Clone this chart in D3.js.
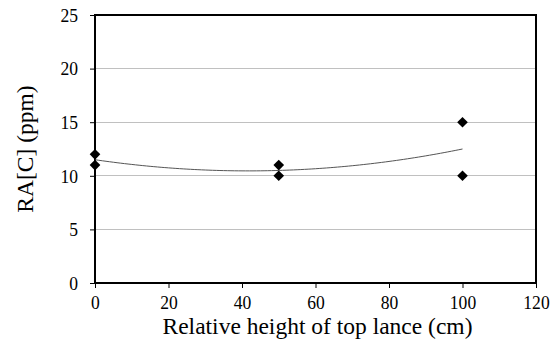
<!DOCTYPE html>
<html><head><meta charset="utf-8">
<script src="https://cdn.jsdelivr.net/npm/d3@7"></script>
<style>body{margin:0;background:#fff}svg{display:block}svg text{font-family:"Liberation Serif","Times New Roman",serif;fill:#000}</style>
</head><body>
<script>
const xValues = [0, 0, 50, 50, 100, 100];
const yValues = [12, 11, 11, 10, 15, 10];
const xTicks = [0, 20, 40, 60, 80, 100, 120];
const yTicks = [0, 5, 10, 15, 20, 25];
const xTitle = "Relative height of top lance (cm)";
const yTitle = "RA[C] (ppm)";

const W = 559, H = 347;
const m = {l: 95, r: 23, t: 15, b: 64};
const svg = d3.select("body").append("svg").attr("width", W).attr("height", H);
const x = d3.scaleLinear().domain([0, 120]).range([m.l, W - m.r]);
const y = d3.scaleLinear().domain([0, 25]).range([H - m.b, m.t]);

// gridlines
svg.append("g").selectAll("line").data(yTicks.filter(d => d > 0 && d < 25)).join("line")
  .attr("x1", x(0)).attr("x2", x(120)).attr("y1", d => y(d)).attr("y2", d => y(d))
  .attr("stroke", "#c0c0c0").attr("stroke-width", 1).attr("shape-rendering", "crispEdges");

// axes
const xa = svg.append("g").attr("transform", `translate(0,${y(0)})`)
  .call(d3.axisBottom(x).tickValues(xTicks).tickSize(5).tickPadding(7).tickSizeOuter(0));
const ya = svg.append("g").attr("transform", `translate(${x(0)},0)`)
  .call(d3.axisLeft(y).tickValues(yTicks).tickSize(5).tickPadding(12).tickSizeOuter(0));
[xa, ya].forEach(g => {
  g.attr("font-family", null);
  g.select(".domain").remove();
  g.selectAll("line").attr("stroke", "#000");
  g.selectAll("text").attr("font-size", 19.5);
});
xa.selectAll("text").attr("transform", "scale(0.9,1)");
ya.selectAll("text").each(function () {
  const t = d3.select(this), xx = +t.attr("x");
  t.attr("x", xx / 0.9).attr("transform", "scale(0.9,1)");
});

// frame
svg.append("rect").attr("x", x(0)).attr("y", y(25)).attr("width", x(120) - x(0)).attr("height", y(0) - y(25))
  .attr("fill", "none").attr("stroke", "#000").attr("stroke-width", 2);

// quadratic least-squares trend from the data
const pts = xValues.map((v, i) => [v, yValues[i]]);
function polyfit2(p) {
  let S = [0,0,0,0,0], T = [0,0,0];
  p.forEach(([a, b]) => { for (let k = 0; k < 5; k++) S[k] += a ** k; for (let k = 0; k < 3; k++) T[k] += b * a ** k; });
  const A = [[S[0],S[1],S[2],T[0]],[S[1],S[2],S[3],T[1]],[S[2],S[3],S[4],T[2]]];
  for (let i = 0; i < 3; i++) {
    for (let j = i + 1; j < 3; j++) { const f = A[j][i] / A[i][i]; for (let k = i; k < 4; k++) A[j][k] -= f * A[i][k]; }
  }
  const c = [0,0,0];
  for (let i = 2; i >= 0; i--) { let s = A[i][3]; for (let k = i + 1; k < 3; k++) s -= A[i][k] * c[k]; c[i] = s / A[i][i]; }
  return c;
}
const c = polyfit2(pts);
const xs = d3.range(0, 100.5, 1);
svg.append("path").datum(xs.map(v => [v, c[0] + c[1] * v + c[2] * v * v]))
  .attr("d", d3.line().x(d => x(d[0])).y(d => y(d[1])))
  .attr("fill", "none").attr("stroke", "#555").attr("stroke-width", 1);

// markers
svg.append("g").selectAll("path").data(pts).join("path")
  .attr("transform", d => `translate(${x(d[0])},${y(d[1])})`)
  .attr("d", d3.symbol().type(d3.symbolDiamond2).size(72)).attr("fill", "#000");

// titles
svg.append("text").attr("x", 317.5).attr("y", 334).attr("text-anchor", "middle")
  .attr("font-size", 23.5).text(xTitle);
svg.append("text").attr("transform", `translate(33,${(y(0) + y(25)) / 2}) rotate(-90)`).attr("text-anchor", "middle")
  .attr("font-size", 23.5).text(yTitle);
</script>
</body></html>
